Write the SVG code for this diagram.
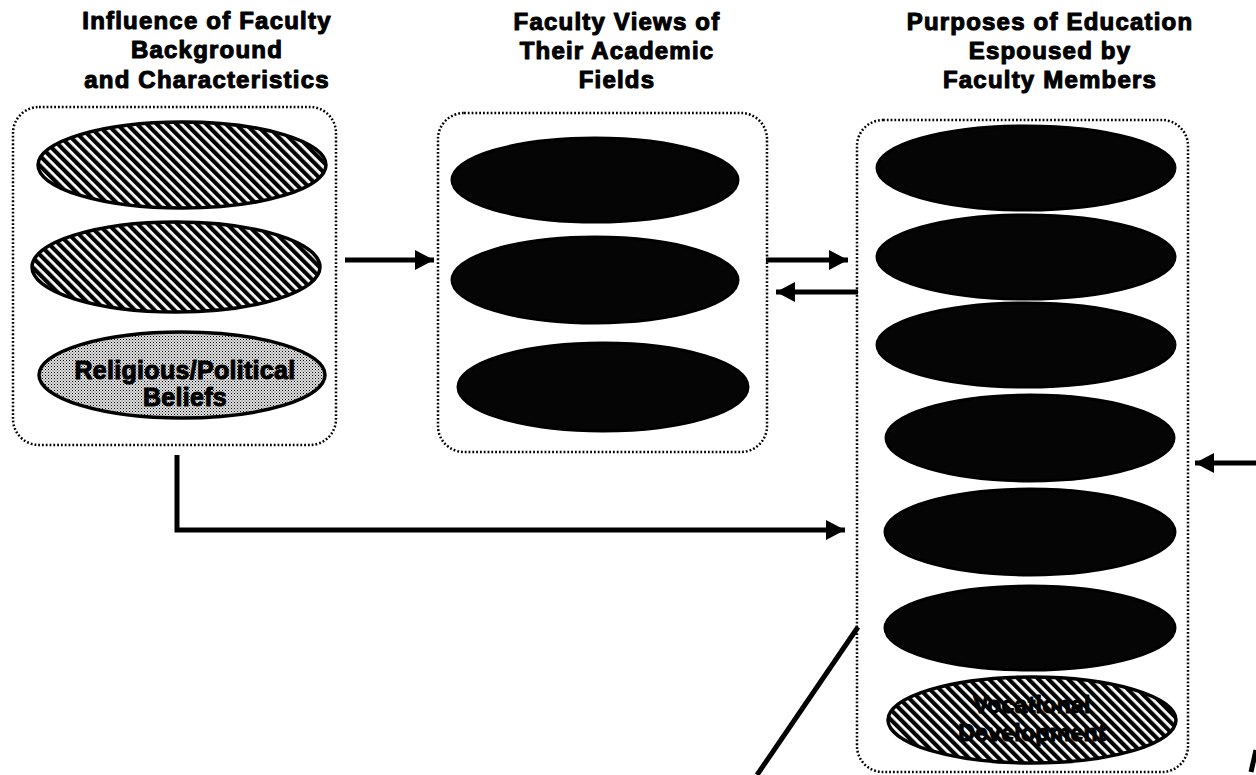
<svg xmlns="http://www.w3.org/2000/svg" width="1256" height="775" viewBox="0 0 1256 775">
<style>
.hdr{font-family:"Liberation Sans",Arial,sans-serif;font-weight:bold;font-size:24px;letter-spacing:1.2px;text-anchor:middle;fill:#000;stroke:#000;stroke-width:1.1px;stroke-linejoin:round}
.lbl{font-family:"Liberation Sans",Arial,sans-serif;font-weight:bold;font-size:25px;letter-spacing:0.3px;text-anchor:middle;fill:#000;stroke:#000;stroke-width:1px;stroke-linejoin:round}
.box{fill:none;stroke:#000;stroke-width:2.5;stroke-dasharray:1.8 2}
.dark{fill:#050505;stroke:#000;stroke-width:3}
.hatch{fill:url(#hatch);stroke:#000;stroke-width:3.5}
.stip{fill:url(#stip);stroke:#000;stroke-width:3.5}
.con{fill:none;stroke:#000;stroke-width:5}
</style>
<defs>
<pattern id="hatch" patternUnits="userSpaceOnUse" width="7" height="7" patternTransform="rotate(-45)">
<rect width="7" height="7" fill="#fff"/>
<rect width="4.2" height="7" fill="#000"/>
</pattern>
<pattern id="stip" patternUnits="userSpaceOnUse" width="3" height="3">
<rect width="3" height="3" fill="#e0e0e0"/>
<rect width="1" height="1" fill="#000"/>
<rect x="1.5" y="1.5" width="1" height="1" fill="#444"/>
</pattern>
<marker id="ah" markerWidth="22" markerHeight="22" refX="19" refY="10" orient="auto" markerUnits="userSpaceOnUse">
<path d="M0,0 L19,10 L0,20 z" fill="#000"/>
</marker>
</defs>
<rect width="1256" height="775" fill="#fff"/>

<g id="header-background">
<text class="hdr" x="207" y="29">Influence of Faculty</text>
<text class="hdr" x="207" y="58">Background</text>
<text class="hdr" x="207" y="88">and Characteristics</text>
</g>
<g id="header-views">
<text class="hdr" x="617" y="30">Faculty Views of</text>
<text class="hdr" x="617" y="59">Their Academic</text>
<text class="hdr" x="617" y="88">Fields</text>
</g>
<g id="header-purposes">
<text class="hdr" x="1050" y="30">Purposes of Education</text>
<text class="hdr" x="1050" y="59">Espoused by</text>
<text class="hdr" x="1050" y="88">Faculty Members</text>
</g>

<g id="box-background">
<rect class="box" x="13" y="107" width="323" height="338" rx="26"/>
<g id="bg-1"><ellipse class="hatch" cx="182" cy="165" rx="144" ry="43"/></g>
<g id="bg-2"><ellipse class="hatch" cx="176" cy="267" rx="144" ry="45"/></g>
<g id="bg-3"><ellipse class="stip" cx="182" cy="375" rx="143" ry="43"/>
<text class="lbl" x="185" y="379">Religious/Political</text>
<text class="lbl" x="185" y="406">Beliefs</text></g>
</g>

<g id="box-views">
<rect class="box" x="438" y="113" width="329" height="339" rx="26"/>
<g id="fv-1"><ellipse class="dark" cx="595" cy="180" rx="143" ry="42"/></g>
<g id="fv-2"><ellipse class="dark" cx="595" cy="280" rx="143" ry="43"/></g>
<g id="fv-3"><ellipse class="dark" cx="603" cy="387" rx="145" ry="44"/></g>
</g>

<g id="box-purposes">
<rect class="box" x="857" y="120" width="331" height="652" rx="26"/>
<g id="pe-1"><ellipse class="dark" cx="1026" cy="168" rx="149" ry="42"/></g>
<g id="pe-2"><ellipse class="dark" cx="1026" cy="257" rx="149" ry="42"/></g>
<g id="pe-3"><ellipse class="dark" cx="1026" cy="345" rx="149" ry="42"/></g>
<g id="pe-4"><ellipse class="dark" cx="1030" cy="438" rx="144" ry="43"/></g>
<g id="pe-5"><ellipse class="dark" cx="1030" cy="532" rx="145" ry="43"/></g>
<g id="pe-6"><ellipse class="dark" cx="1030" cy="628" rx="145" ry="42"/></g>
<g id="pe-7"><ellipse class="hatch" cx="1032" cy="720" rx="144" ry="43"/>
<text class="lbl" x="1032" y="713" style="font-size:23px">Vocational</text>
<text class="lbl" x="1032" y="741" style="font-size:23px">Development</text></g>
</g>

<g id="connectors">
<path class="con" d="M345,260 H434" marker-end="url(#ah)"/>
<path class="con" d="M766,260 H848" marker-end="url(#ah)"/>
<path class="con" d="M858,292 H776" marker-end="url(#ah)"/>
<path class="con" d="M177,455 V530 H845" marker-end="url(#ah)"/>
<path class="con" d="M1256,463 H1195" marker-end="url(#ah)"/>
<path class="con" d="M858,627 L757,775"/>
<path class="con" d="M1256,750 L1251,772"/>
</g>
</svg>
